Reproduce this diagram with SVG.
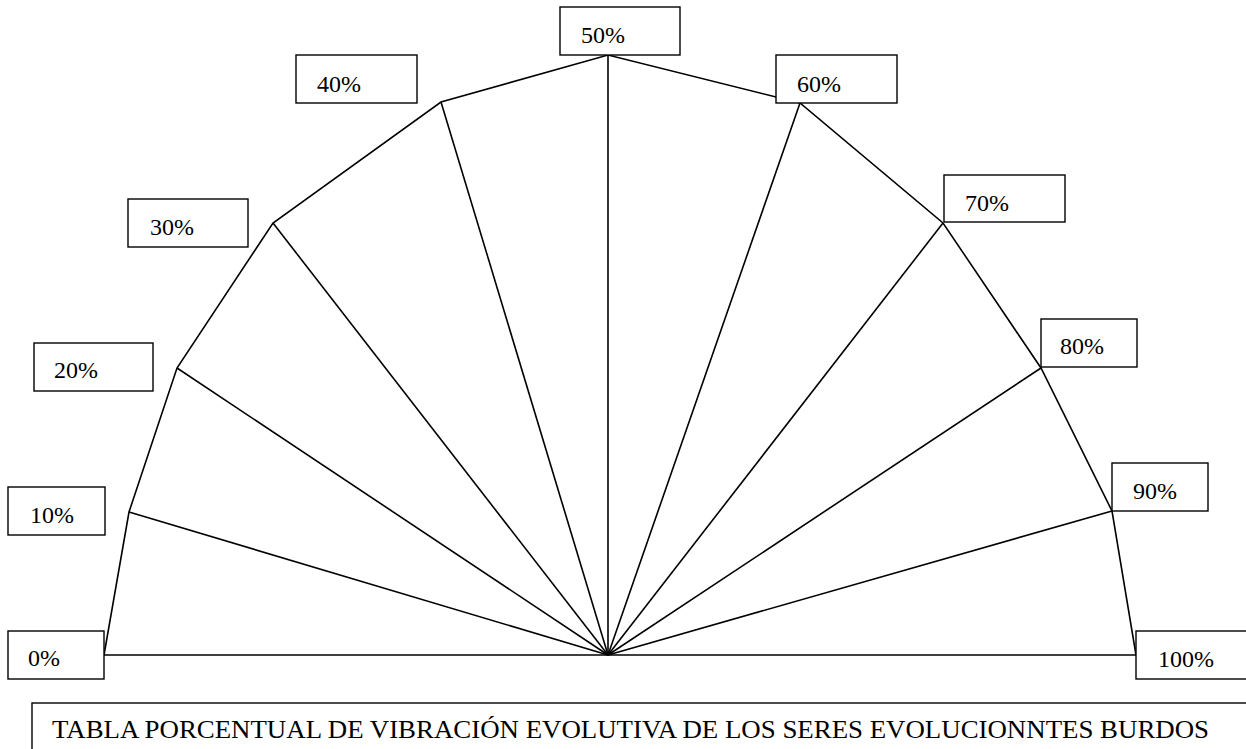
<svg xmlns="http://www.w3.org/2000/svg" width="1246" height="749" viewBox="0 0 1246 749">
<style>
.ln{stroke:#000;stroke-width:1.6;fill:none}
.bx{fill:#fff;stroke:#000;stroke-width:1.4}
text{font-family:'Liberation Serif','DejaVu Serif',serif;fill:#000}
.t{font-size:24px}
.tt{font-size:25px}
</style>
<rect width="1246" height="749" fill="#fff"/>
<g id="connectors" class="ln">
<polyline points="104,655 129,512 177,368 273,223 441,102 608,55 800,103 943,223 1041,368 1112,511 1136,655"/>
<line x1="104" y1="655" x2="1136" y2="655"/>
<line x1="608" y1="655" x2="129" y2="512"/>
<line x1="608" y1="655" x2="177" y2="368"/>
<line x1="608" y1="655" x2="273" y2="223"/>
<line x1="608" y1="655" x2="441" y2="102"/>
<line x1="608" y1="655" x2="608" y2="55"/>
<line x1="608" y1="655" x2="800" y2="103"/>
<line x1="608" y1="655" x2="943" y2="223"/>
<line x1="608" y1="655" x2="1041" y2="368"/>
<line x1="608" y1="655" x2="1112" y2="511"/>
</g>
<g id="n0"><rect class="bx" x="8" y="631" width="96" height="48"/><text class="t" x="28" y="666" font-family="Liberation Serif, serif">0%</text></g>
<g id="n10"><rect class="bx" x="8" y="487" width="97" height="48"/><text class="t" x="30" y="523" font-family="Liberation Serif, serif">10%</text></g>
<g id="n20"><rect class="bx" x="34" y="343" width="119" height="48"/><text class="t" x="54" y="378" font-family="Liberation Serif, serif">20%</text></g>
<g id="n30"><rect class="bx" x="128" y="199" width="120" height="48"/><text class="t" x="150" y="235" font-family="Liberation Serif, serif">30%</text></g>
<g id="n40"><rect class="bx" x="296" y="55" width="121" height="48"/><text class="t" x="317" y="92" font-family="Liberation Serif, serif">40%</text></g>
<g id="n50"><rect class="bx" x="560" y="7" width="120" height="48"/><text class="t" x="581" y="43" font-family="Liberation Serif, serif">50%</text></g>
<g id="n60"><rect class="bx" x="776" y="55" width="121" height="48"/><text class="t" x="797" y="92" font-family="Liberation Serif, serif">60%</text></g>
<g id="n70"><rect class="bx" x="944" y="175" width="121" height="47"/><text class="t" x="965" y="211" font-family="Liberation Serif, serif">70%</text></g>
<g id="n80"><rect class="bx" x="1041" y="319" width="96" height="48"/><text class="t" x="1060" y="354" font-family="Liberation Serif, serif">80%</text></g>
<g id="n90"><rect class="bx" x="1112" y="463" width="96" height="48"/><text class="t" x="1133" y="499" font-family="Liberation Serif, serif">90%</text></g>
<g id="n100"><rect class="bx" x="1136" y="631" width="130" height="48"/><text class="t" x="1158" y="667" font-family="Liberation Serif, serif">100%</text></g>
<g id="title"><rect class="bx" x="32" y="703" width="1240" height="60"/><text class="tt" x="52" y="738" textLength="1157" lengthAdjust="spacingAndGlyphs" font-family="Liberation Serif, serif">TABLA PORCENTUAL DE VIBRACIÓN EVOLUTIVA DE LOS SERES EVOLUCIONNTES BURDOS</text></g>
</svg>
